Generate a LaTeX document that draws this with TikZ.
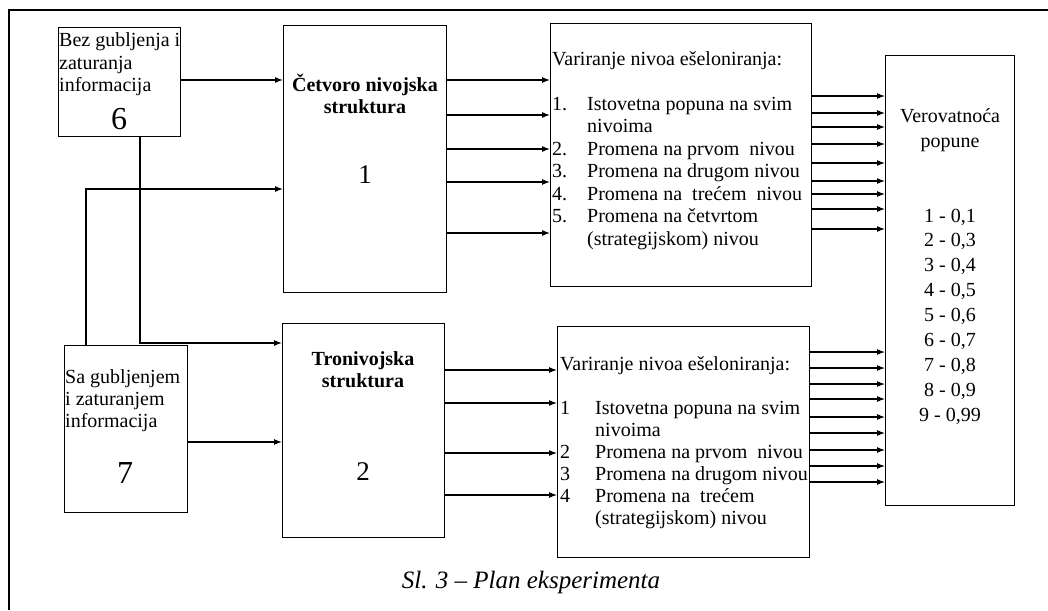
\documentclass[tikz,border=0pt]{standalone}
\usepackage{fontspec}
\setmainfont{Liberation Serif}
\usepackage{tikz}
\usetikzlibrary{arrows.meta}

\begin{document}
\begin{tikzpicture}[x=1pt,y=-1pt,
        box/.style={draw, line width=1.1pt, anchor=north west, inner sep=0pt},
        txt/.style={inner sep=0pt, anchor=base, font=\fontsize{20}{22.5}\selectfont},
        arr/.style={line width=1.1pt, -{Latex[length=8pt,width=6pt]}}]
        \useasboundingbox (0,0) rectangle (1048,610);
        \draw[line width=1.2pt] (1048,10) -- (9,10) -- (9,610);

        % Boxes
        \node[box, minimum width=122pt, minimum height=109pt] (b6) at (58,27) {};
        \node[box, minimum width=163pt, minimum height=267pt] (b1) at (283,25) {};
        \node[box, minimum width=261pt, minimum height=263pt] (v1) at (550,23) {};
        \node[box, minimum width=129pt, minimum height=450pt] (vp) at (885,55) {};
        \node[box, minimum width=123pt, minimum height=167pt] (b7) at (64,345) {};
        \node[box, minimum width=162pt, minimum height=214pt] (b2) at (282,323) {};
        \node[box, minimum width=252pt, minimum height=231pt] (v2) at (557,326) {};

        % Texts (tabular[t] keeps the first line on the base anchor)
        \node[txt, anchor=base west, font=\fontsize{20}{22}\selectfont] (t6) at (59,47)
            {\begin{tabular}[t]{@{}l@{}}Bez gubljenja i\\zaturanja\\informacija\end{tabular}};
        \node[txt, font=\fontsize{32}{34}\selectfont] (n6) at (119,129) {6};
        \node[txt, font=\fontsize{20}{22}\selectfont\bfseries] (t1) at (365,91)
            {\begin{tabular}[t]{@{}c@{}}Četvoro nivojska\\struktura\end{tabular}};
        \node[txt, font=\fontsize{27}{30}\selectfont] (n1) at (365,183) {1};
        \node[txt, anchor=base west] (l1) at (552,65) {\begin{tabular}[t]{@{}p{35pt}@{}l@{}}
            \multicolumn{2}{@{}l@{}}{Variranje nivoa ešeloniranja:}\\
            \\
            1. & Istovetna popuna na svim\\
               & nivoima\\
            2. & Promena na prvom\ \ nivou\\
            3. & Promena na drugom nivou\\
            4. & Promena na\ \ trećem\ \ nivou\\
            5. & Promena na četvrtom\\
               & (strategijskom) nivou
        \end{tabular}};
        \node[txt, font=\fontsize{20}{25}\selectfont] (tp) at (950,122)
            {\begin{tabular}[t]{@{}c@{}}Verovatnoća\\popune\end{tabular}};
        \node[txt, font=\fontsize{20}{24.9}\selectfont] (np) at (950,222)
            {\begin{tabular}[t]{@{}c@{}}1 - 0,1\\2 - 0,3\\3 - 0,4\\4 - 0,5\\5 - 0,6\\6 - 0,7\\7 - 0,8\\8 - 0,9\\9 - 0,99\end{tabular}};
        \node[txt, anchor=base west, font=\fontsize{20}{22}\selectfont] (t7) at (65,383)
            {\begin{tabular}[t]{@{}l@{}}Sa gubljenjem\\i zaturanjem\\informacija\end{tabular}};
        \node[txt, font=\fontsize{32}{34}\selectfont] (n7) at (125,483) {7};
        \node[txt, font=\fontsize{20}{22}\selectfont\bfseries] (t2) at (363,365)
            {\begin{tabular}[t]{@{}c@{}}Tronivojska\\struktura\end{tabular}};
        \node[txt, font=\fontsize{27}{30}\selectfont] (n2) at (363,480) {2};
        \node[txt, anchor=base west, font=\fontsize{20}{22}\selectfont] (l2) at (560,370) {\begin{tabular}[t]{@{}p{35pt}@{}l@{}}
            \multicolumn{2}{@{}l@{}}{Variranje nivoa ešeloniranja:}\\
            \\
            1 & Istovetna popuna na svim\\
              & nivoima\\
            2 & Promena na prvom\ \ nivou\\
            3 & Promena na drugom nivou\\
            4 & Promena na\ \ trećem\\
              & (strategijskom) nivou
        \end{tabular}};
        \node[txt, font=\fontsize{25}{28}\selectfont\itshape] (cap) at (531,588) {Sl. 3 -- Plan eksperimenta};

        % Arrows
        \draw[arr] (b6.east |- 0,80) -- (b1.west |- 0,80);
        \draw[arr] (b7.north -| 86,0) |- (b1.west |- 0,189);
        \draw[arr] (b6.south -| 140,0) |- (b2.west |- 0,343);
        \draw[arr] (b7.east |- 0,442) -- (b2.west |- 0,442);
        \foreach \y in {80,115,149,182,233}
            \draw[arr] (b1.east |- 0,\y) -- (v1.west |- 0,\y);
        \foreach \y in {370,403,453,495}
            \draw[arr] (b2.east |- 0,\y) -- (v2.west |- 0,\y);
        \foreach \y in {96,113,127,144,163,181,194,209,229}
            \draw[arr] (v1.east |- 0,\y) -- (vp.west |- 0,\y);
        \foreach \y in {352,368,384,399,417,433,450,466,482}
            \draw[arr] (v2.east |- 0,\y) -- (vp.west |- 0,\y);
\end{tikzpicture}
\end{document}
